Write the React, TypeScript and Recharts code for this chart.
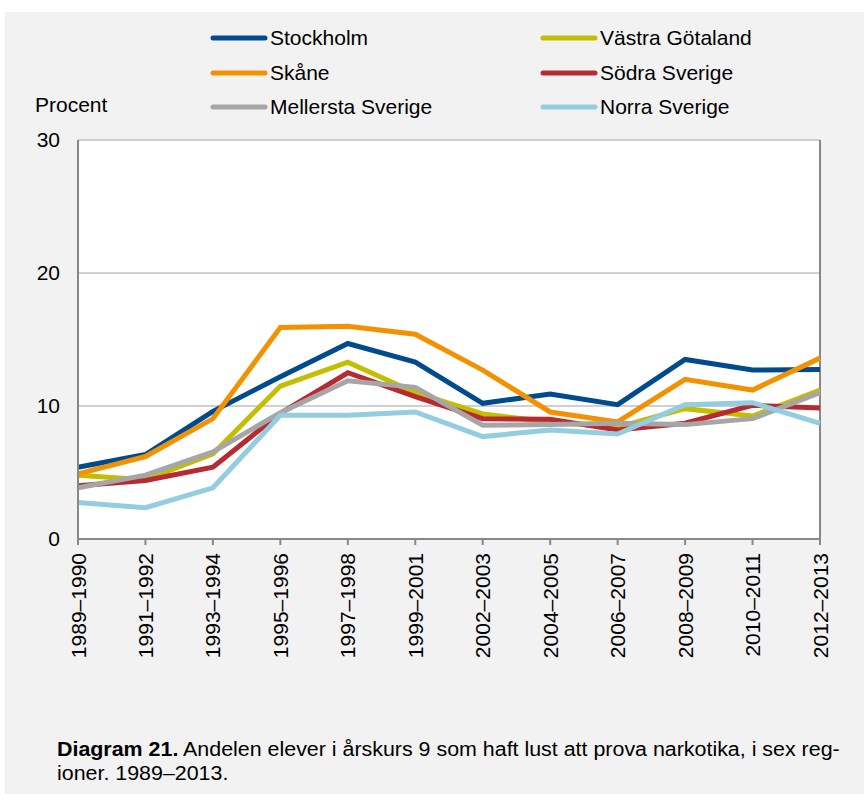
import { LineChart, Line, XAxis, YAxis, CartesianGrid, ReferenceLine } from 'recharts';

const PERIODS = [
  '1989–1990', '1991–1992', '1993–1994', '1995–1996', '1997–1998', '1999–2001',
  '2002–2003', '2004–2005', '2006–2007', '2008–2009', '2010–2011', '2012–2013',
];

const STOCKHOLM = [5.4, 6.35, 9.6, 12.2, 14.7, 13.3, 10.2, 10.9, 10.1, 13.5, 12.7, 12.75];
const VASTRA_GOTALAND = [4.8, 4.45, 6.4, 11.5, 13.3, 11.0, 9.4, 8.8, 8.4, 9.8, 9.25, 11.2];
const SKANE = [4.9, 6.2, 9.05, 15.9, 16.0, 15.4, 12.7, 9.55, 8.8, 12.0, 11.2, 13.6];
const SODRA_SVERIGE = [4.0, 4.4, 5.4, 9.45, 12.5, 10.7, 9.05, 9.0, 8.2, 8.7, 10.05, 9.85];
const MELLERSTA_SVERIGE = [3.85, 4.8, 6.55, 9.5, 11.9, 11.4, 8.55, 8.6, 8.7, 8.6, 9.05, 11.0];
const NORRA_SVERIGE = [2.75, 2.35, 3.85, 9.3, 9.3, 9.55, 7.7, 8.2, 7.9, 10.1, 10.25, 8.7];

const Y_TICKS = [0, 10, 20, 30];

// legend order is row by row, two columns
const SERIES = [
  { key: 'stockholm', name: 'Stockholm', color: '#004b8d', values: STOCKHOLM },
  { key: 'vastra', name: 'Västra Götaland', color: '#c3bf00', values: VASTRA_GOTALAND },
  { key: 'skane', name: 'Skåne', color: '#f39100', values: SKANE },
  { key: 'sodra', name: 'Södra Sverige', color: '#b72a32', values: SODRA_SVERIGE },
  { key: 'mellersta', name: 'Mellersta Sverige', color: '#a6a6a6', values: MELLERSTA_SVERIGE },
  { key: 'norra', name: 'Norra Sverige', color: '#93cddf', values: NORRA_SVERIGE },
];

const data = PERIODS.map((p, i) => {
  const row: Record<string, string | number> = { period: p };
  SERIES.forEach(s => { row[s.key] = s.values[i]; });
  return row;
});

const FONT = '"Liberation Sans", Arial, sans-serif';
const AXIS_GRAY = '#888888';

const PeriodTick = ({ x, y, payload }: { x?: number; y?: number; payload?: { value: string } }) => (
  <g transform={`translate(${x},${y})`}>
    <text
      x={0}
      y={0}
      dy="0.36em"
      transform="rotate(-90)"
      textAnchor="end"
      fontSize={21}
      fontFamily={FONT}
      fill="#000"
    >
      {payload?.value}
    </text>
  </g>
);

// Legend drawn outside the chart so it doesn't eat into the plot offset
const ChartLegend = () => (
  <div
    style={{
      position: 'absolute',
      left: 210,
      top: 21,
      display: 'grid',
      gridTemplateColumns: '330px 330px',
      gridAutoRows: '34.5px',
    }}
  >
    {SERIES.map(s => (
      <div key={s.key} style={{ display: 'flex', alignItems: 'center' }}>
        <svg width={58} height={8} style={{ marginRight: 2 }}>
          <line x1={3} y1={4} x2={55} y2={4} stroke={s.color} strokeWidth={5} strokeLinecap="round" />
        </svg>
        <span style={{ fontSize: 21, color: '#000', whiteSpace: 'nowrap' }}>{s.name}</span>
      </div>
    ))}
  </div>
);

export default function App() {
  return (
    <div style={{ position: 'absolute', left: 0, top: 0, width: 864, height: 794, background: '#fff', fontFamily: FONT }}>
      <div style={{ position: 'absolute', left: 5, top: 12, width: 859, height: 782, background: '#f2f2f2' }} />
      <div style={{ position: 'absolute', left: 0, top: 0 }}>
        <LineChart width={864} height={700} data={data} margin={{ top: 140, right: 44, left: 0, bottom: 21 }}>
          <CartesianGrid vertical={false} stroke="#c0c0c0" strokeWidth={1.5} fill="#ffffff" fillOpacity={1} />
          <XAxis
            dataKey="period"
            interval={0}
            height={140}
            tick={<PeriodTick />}
            tickSize={6}
            tickMargin={8}
            axisLine={{ stroke: AXIS_GRAY, strokeWidth: 2 }}
            tickLine={{ stroke: AXIS_GRAY, strokeWidth: 2 }}
          />
          <YAxis
            domain={[0, 30]}
            ticks={Y_TICKS}
            width={78}
            tickSize={6}
            tickMargin={12}
            tickLine={false}
            axisLine={{ stroke: AXIS_GRAY, strokeWidth: 2 }}
            tick={{ fontSize: 21, fill: '#000', fontFamily: FONT }}
          />
          <ReferenceLine x={PERIODS[PERIODS.length - 1]} stroke={AXIS_GRAY} strokeWidth={2} />
          {SERIES.map(s => (
            <Line
              key={s.key}
              type="linear"
              dataKey={s.key}
              name={s.name}
              stroke={s.color}
              strokeWidth={5}
              dot={false}
              activeDot={false}
              isAnimationActive={false}
            />
          ))}
        </LineChart>
      </div>
      <ChartLegend />
      <div style={{ position: 'absolute', left: 35, top: 93, fontSize: 21, color: '#000' }}>Procent</div>
      <div
        style={{
          position: 'absolute',
          left: 57,
          top: 737,
          fontSize: 20,
          lineHeight: '24px',
          color: '#000',
          whiteSpace: 'nowrap',
          transform: 'scaleX(1.07)',
          transformOrigin: 'left top',
        }}
      >
        <b>Diagram 21.</b> Andelen elever i årskurs 9 som haft lust att prova narkotika, i sex reg-
        <br />
        ioner. 1989–2013.
      </div>
    </div>
  );
}
